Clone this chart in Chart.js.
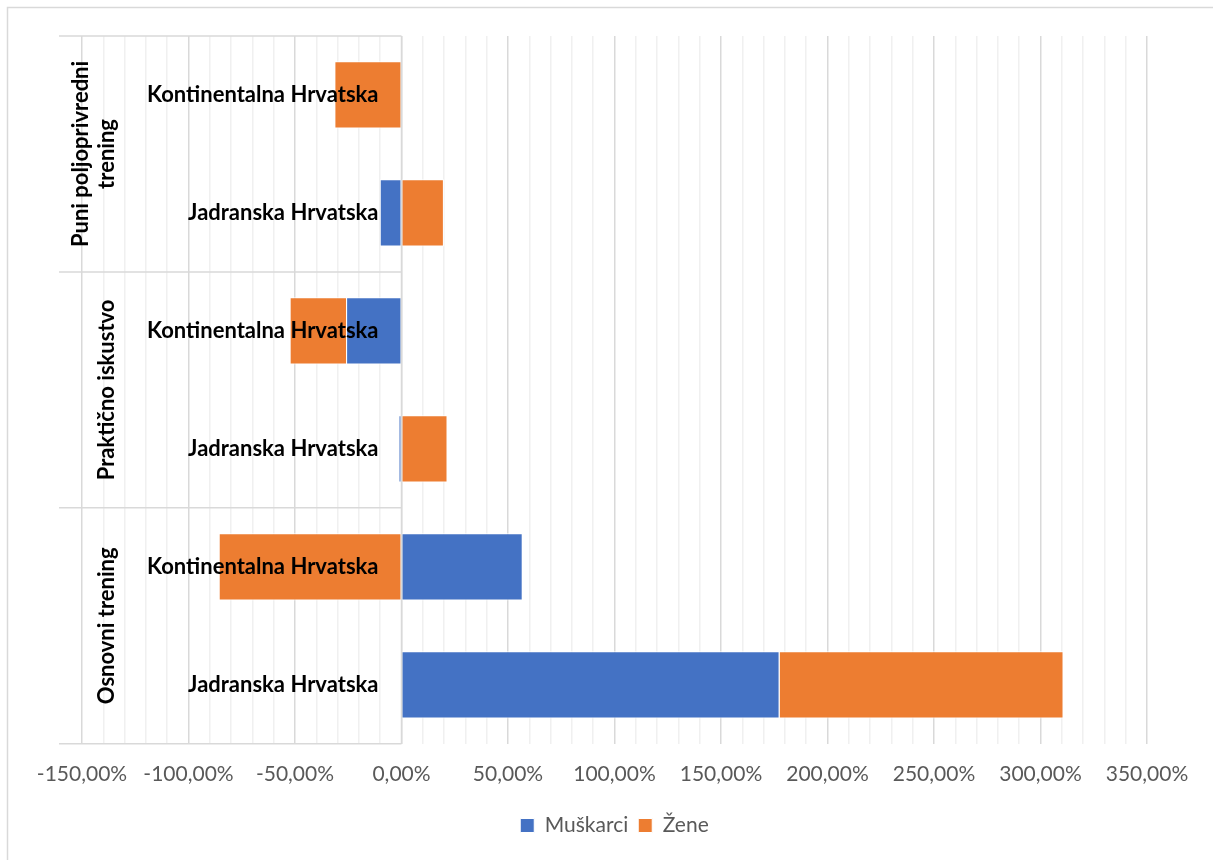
<!DOCTYPE html>
<html>
<head>
<meta charset="utf-8">
<script src="https://cdn.jsdelivr.net/npm/chart.js"></script>
<style>
  body { margin: 0; background: #fff; }
  #wrap { width: 1213px; height: 860px; position: relative; }
</style>
</head>
<body>
<div id="wrap"><canvas id="chart"></canvas></div>
<script>
const groups = ['Puni poljoprivredni\ntrening', 'Praktično iskustvo', 'Osnovni trening'];
const regions = ['Kontinentalna Hrvatska', 'Jadranska Hrvatska',
                 'Kontinentalna Hrvatska', 'Jadranska Hrvatska',
                 'Kontinentalna Hrvatska', 'Jadranska Hrvatska'];
const muskarci = [0, -10.2, -26.0, -1.4, 56.9, 177.5];
const zene = [-31.5, 19.9, -26.5, 21.6, -85.8, 133.3];
const xMin = -150, xMax = 350;

function fmt(v) {
    return v.toFixed(2).replace('.', ',') + '%';
}

const categoryLabels = {
    id: 'categoryLabels',
    afterDatasetsDraw(chart) {
        const ctx = chart.ctx;
        const area = chart.chartArea;
        const x0 = chart.scales.x.getPixelForValue(0);
        const rowH = (area.bottom - area.top) / regions.length;
        ctx.save();
        // outer frame
        ctx.strokeStyle = '#d9d9d9';
        ctx.lineWidth = 1.5;
        ctx.strokeRect(7.5, 7.5, 1215, 870);
        // axis line and group separators
        ctx.beginPath();
        ctx.moveTo(x0, area.top);
        ctx.lineTo(x0, area.bottom);
        for (let k = 0; k <= groups.length; k++) {
            const y = area.top + k * 2 * rowH;
            ctx.moveTo(59, y);
            ctx.lineTo(x0, y);
        }
        ctx.stroke();
        // region labels
        ctx.fillStyle = '#000';
        ctx.font = 'bold 22px Lato';
        ctx.textAlign = 'right';
        ctx.textBaseline = 'middle';
        regions.forEach((r, i) => {
            ctx.fillText(r, x0 - 23, chart.scales.y.getPixelForValue(i));
        });
        // group labels
        groups.forEach((g, k) => {
            const cy = area.top + (k * 2 + 1) * rowH;
            const lines = g.split('\n');
            ctx.save();
            ctx.translate(107, cy);
            ctx.rotate(-Math.PI / 2);
            ctx.textAlign = 'center';
            lines.forEach((ln, j) => {
                ctx.fillText(ln, 0, (j - (lines.length - 1)) * 26);
            });
            ctx.restore();
        });
        ctx.restore();
    }
};

new Chart(document.getElementById('chart'), {
    type: 'bar',
    data: {
        labels: regions,
        datasets: [
            { label: 'Muškarci', data: muskarci, backgroundColor: '#4472C4', borderColor: '#ffffff', borderWidth: 1 },
            { label: 'Žene', data: zene, backgroundColor: '#ED7D31', borderColor: '#ffffff', borderWidth: 1 }
        ]
    },
    options: {
        indexAxis: 'y',
        responsive: true,
        maintainAspectRatio: false,
        animation: false,
        layout: { padding: { left: 82, right: 66, top: 36, bottom: 14 } },
        scales: {
            y: {
                stacked: true,
                display: false,
                grid: { display: false }
            },
            x: {
                stacked: true,
                min: xMin,
                max: xMax,
                border: { display: false },
                grid: {
                    drawTicks: false,
                    lineWidth: 1.5,
                    color: c => (c.tick.value % 50 === 0 ? '#d9d9d9' : '#f0f0f0')
                },
                ticks: {
                    stepSize: 10,
                    autoSkip: false,
                    maxRotation: 0,
                    padding: 18,
                    color: '#595959',
                    font: { family: 'Lato', size: 21 },
                    callback: v => (v % 50 === 0 ? fmt(v) : '')
                }
            }
        },
        plugins: {
            legend: {
                position: 'bottom',
                labels: {
                    boxWidth: 14,
                    boxHeight: 14,
                    color: '#595959',
                    font: { family: 'Lato', size: 21 },
                    padding: 10
                }
            },
            tooltip: { enabled: false }
        },
        datasets: {
            bar: { barPercentage: 0.57, categoryPercentage: 1 }
        }
    },
    plugins: [categoryLabels]
});
</script>
</body>
</html>
